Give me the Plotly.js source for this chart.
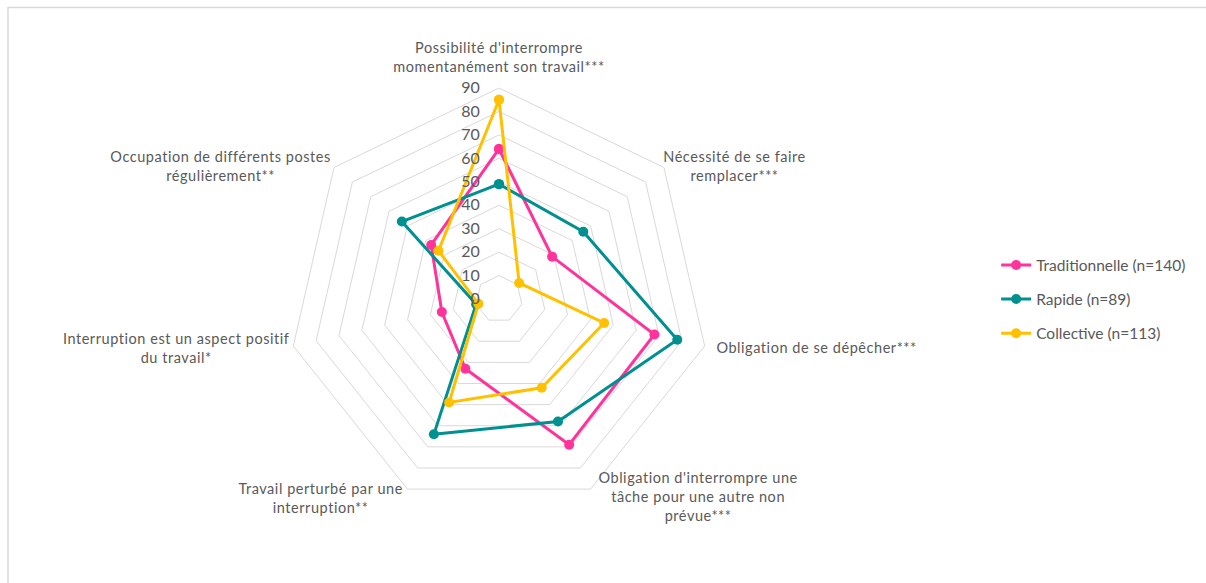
<!DOCTYPE html>
<html>
<head>
<meta charset="utf-8">
<script src="https://cdn.plot.ly/plotly-3.0.1.min.js"></script>
<style>
html,body{margin:0;padding:0;background:#fff;}
#chart{width:1206px;height:583px;}
#chart .annotation-text{letter-spacing:0.55px;}
</style>
</head>
<body>
<div id="chart"></div>
<script>
const categories = [
  "Possibilité d'interrompre<br>momentanément son travail***",
  "Nécessité de se faire<br>remplacer***",
  "Obligation de se dépêcher***",
  "Obligation d'interrompre une<br>tâche pour une autre non<br>prévue***",
  "Travail perturbé par une<br>interruption**",
  "Interruption est un aspect positif<br>du travail*",
  "Occupation de différents postes<br>régulièrement**"
];
const traditionnelle = [64, 29, 68, 69, 33, 25, 37];
const rapide = [49, 46, 78, 58, 64, 10, 53];
const collective = [85, 11, 46, 42, 49, 9, 33];
const seriesNames = ["Traditionnelle (n=140)", "Rapide (n=89)", "Collective (n=113)"];
const seriesColors = ["#FF3399", "#009090", "#FFC000"];
const radialTicks = [0, 10, 20, 30, 40, 50, 60, 70, 80, 90];

// category label placement (pixel centres of each label block)
const labelPx = [[499, 57], [735, 166], [816, 347], [698, 496], [321, 498], [176, 348], [220, 166]];

const closeLoop = arr => arr.concat([arr[0]]);
const allSeries = [traditionnelle, rapide, collective];

const traces = allSeries.map((vals, i) => ({
  type: 'scatterpolar',
  mode: 'lines+markers',
  name: seriesNames[i],
  legendgroup: 'g' + i,
  r: closeLoop(vals),
  theta: closeLoop(categories),
  line: {color: seriesColors[i], width: 3},
  marker: {color: seriesColors[i], size: 10},
  cliponaxis: false
}));

const W = 1206, H = 583;
const txt = '#595959';
const fam = 'Lato, sans-serif';

const annotations = categories.map((c, i) => ({
  text: c, xref: 'paper', yref: 'paper',
  x: labelPx[i][0] / W, y: 1 - labelPx[i][1] / H,
  xanchor: 'center', yanchor: 'middle', align: 'center',
  showarrow: false,
  font: {family: fam, size: 14.5, color: txt}
}));

const layout = {
  width: W, height: H,
  margin: {l: 0, r: 0, t: 0, b: 0},
  paper_bgcolor: '#fff',
  font: {family: fam, size: 14, color: txt},
  showlegend: true,
  legend: {
    x: 0.826, xanchor: 'left', y: 0.574, yanchor: 'top',
    font: {family: fam, size: 15.5, color: txt},
    tracegroupgap: 11,
    bgcolor: 'rgba(0,0,0,0)'
  },
  polar: {
    domain: {x: [0.2388, 0.5887], y: [0.1252, 0.849]},
    gridshape: 'linear',
    bgcolor: 'rgba(0,0,0,0)',
    radialaxis: {
      range: [0, 90],
      tickvals: radialTicks,
      ticktext: radialTicks.map(String),
      angle: 90,
      tickangle: 90,
      side: 'counterclockwise',
      showline: false,
      ticks: 'outside',
      ticklen: 13,
      tickcolor: 'rgba(0,0,0,0)',
      gridcolor: '#d9d9d9',
      gridwidth: 1,
      tickfont: {family: fam, size: 16, color: txt}
    },
    angularaxis: {
      type: 'category',
      categoryarray: categories,
      rotation: 90,
      direction: 'clockwise',
      showgrid: false,
      showline: true,
      linecolor: '#d9d9d9',
      linewidth: 1,
      ticks: '',
      showticklabels: false
    }
  },
  annotations: annotations,
  shapes: [{
    type: 'rect', xref: 'paper', yref: 'paper',
    x0: 8 / W, x1: 1.01, y0: -0.01, y1: 1 - 7.5 / H,
    line: {color: '#d9d9d9', width: 1.5}
  }]
};

Plotly.newPlot('chart', traces, layout, {displayModeBar: false, staticPlot: true});
</script>
</body>
</html>
